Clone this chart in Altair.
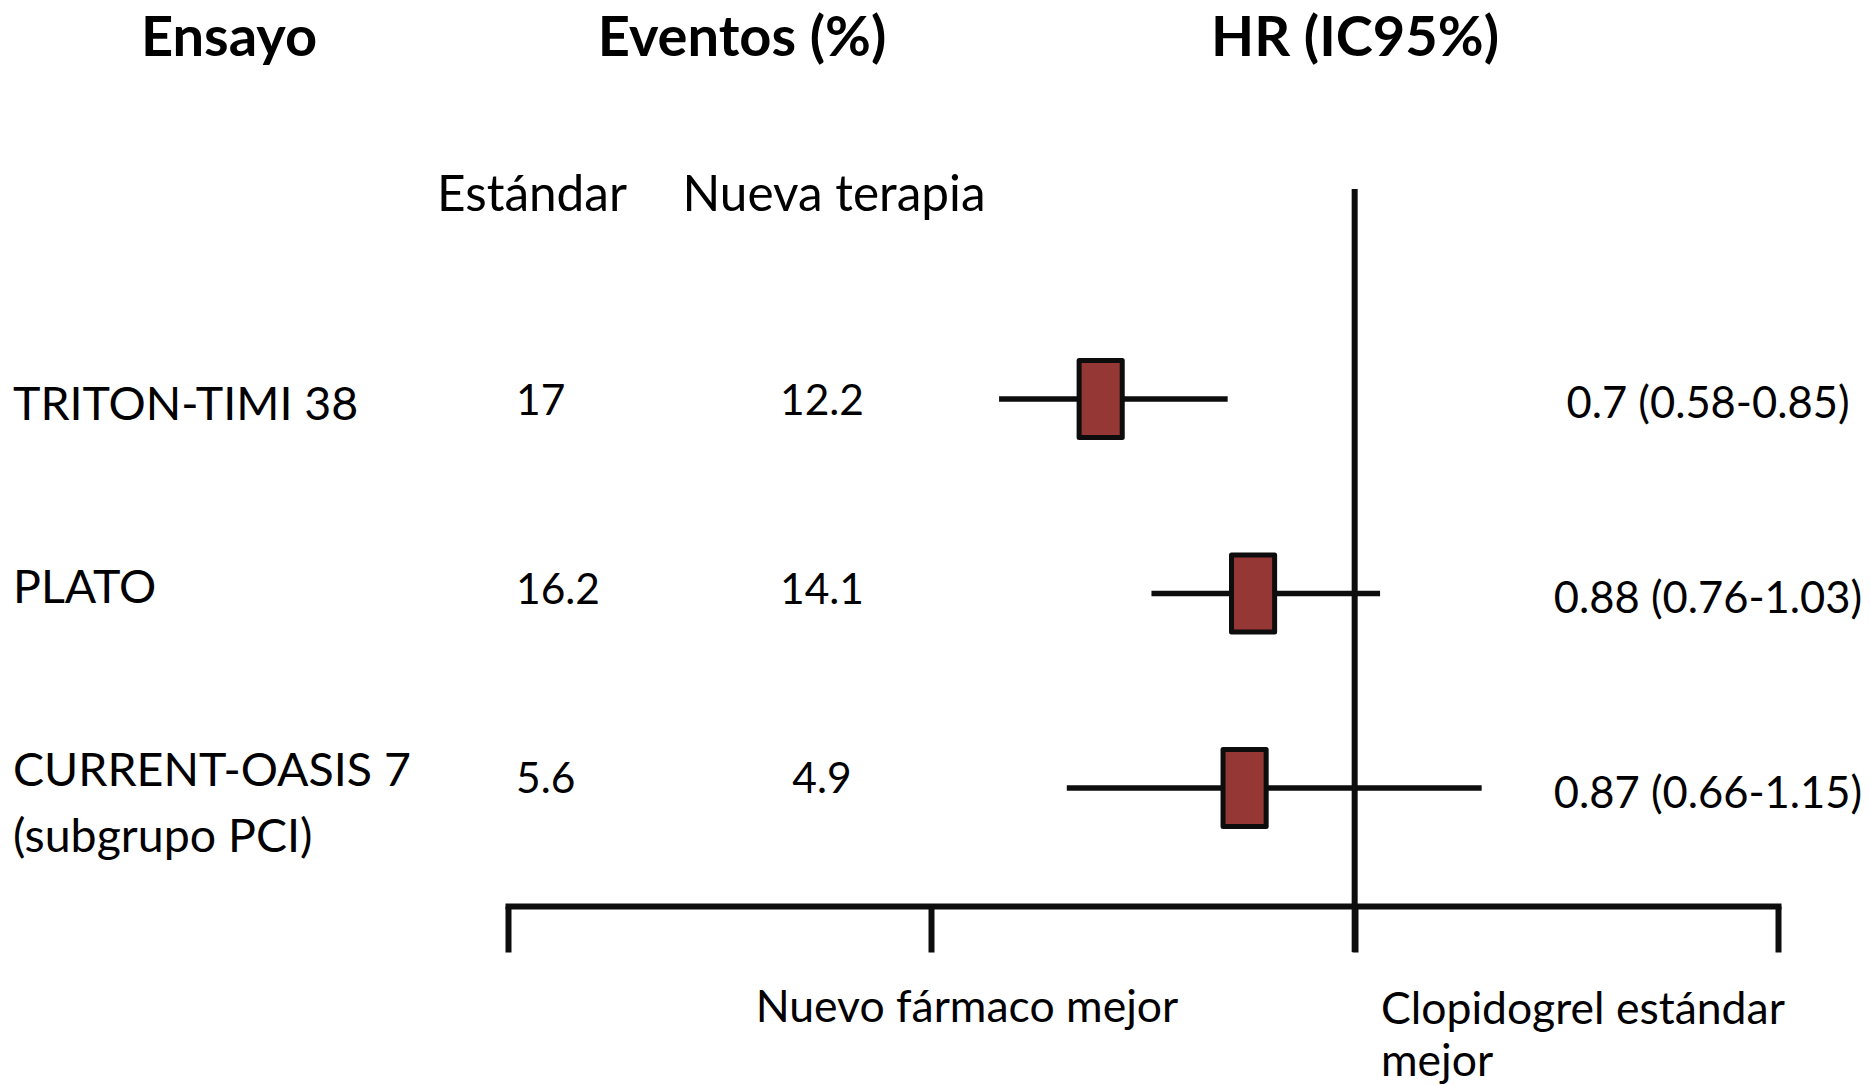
import altair as alt
import pandas as pd

# Trial rows
trials = ["TRITON-TIMI 38", "PLATO", "CURRENT-OASIS 7"]
trial_notes = ["", "", "(subgrupo PCI)"]
events_std = ["17", "16.2", "5.6"]
events_new = ["12.2", "14.1", "4.9"]

# Hazard ratios with 95% CI
hr = [0.7, 0.88, 0.87]
hr_lo = [0.58, 0.76, 0.66]
hr_hi = [0.85, 1.03, 1.15]

# Axis ticks and the line of no effect
axis_ticks = [0, 0.5, 1.0, 1.5]
no_effect = [1.0]

headers = ["Ensayo", "Eventos (%)", "HR (IC95%)"]
subheaders = ["Estándar", "Nueva terapia"]
favours_new = "Nuevo fármaco mejor"
favours_std = ["Clopidogrel estándar", "mejor"]

FONT = "Lato"
INK = "#0d0d0d"
BOX_FILL = "#953735"

df = pd.DataFrame({
    "trial": trials,
    "note": trial_notes,
    "std": events_std,
    "new": events_new,
    "hr": hr,
    "lo": hr_lo,
    "hi": hr_hi,
})
df["hr_text"] = [f"{h} ({l}-{u})" for h, l, u in zip(hr, hr_lo, hr_hi)]

x_scale = alt.Scale(domain=[axis_ticks[0], axis_ticks[-1]], range=[508, 1778], nice=False, zero=False)
x_axis = alt.Axis(values=axis_ticks, labels=False, title=None, grid=False,
                  domainColor=INK, domainWidth=6, tickColor=INK, tickWidth=6,
                  tickSize=46, domainCap="square")


def row_y(top, bottom):
    """Row position channel; each column of the table sits on its own row band."""
    return alt.Y("trial:N", sort=trials, axis=None,
                 scale=alt.Scale(type="point", domain=trials, range=[top, bottom], padding=0))


base = alt.Chart(df)

ci = base.mark_rule(strokeWidth=5.5, color=INK).encode(
    x=alt.X("lo:Q", scale=x_scale, axis=x_axis),
    x2="hi:Q",
    y=row_y(399, 788),
)

box_path = "M-0.56,-1H0.56V1H-0.56Z"
boxes = base.mark_point(shape=box_path, size=77 * 77, filled=True, fill=BOX_FILL,
                        stroke=INK, strokeWidth=5, opacity=1, fillOpacity=1,
                        strokeOpacity=1, strokeJoin="round").encode(
    x=alt.X("hr:Q", scale=x_scale, axis=x_axis),
    y=row_y(399, 788),
)

null_line = alt.Chart(pd.DataFrame({"v": no_effect})).mark_rule(strokeWidth=6, color=INK).encode(
    x=alt.X("v:Q", scale=x_scale, axis=x_axis),
    y=alt.value(189),
    y2=alt.value(952),
)

row_labels = base.mark_text(font=FONT, fontSize=46.5, align="left", baseline="middle",
                            dy=3, color="black").encode(
    text="trial:N", x=alt.value(13), y=row_y(403, 769))
row_notes = base.mark_text(font=FONT, fontSize=46.5, align="left", baseline="middle",
                           dy=69, color="black").encode(
    text="note:N", x=alt.value(13), y=row_y(403, 769))
col_std = base.mark_text(font=FONT, fontSize=42.5, align="left", baseline="middle",
                         dy=3, color="black").encode(
    text="std:N", x=alt.value(516), y=row_y(398.5, 776.5))
col_new = base.mark_text(font=FONT, fontSize=42.5, align="center", baseline="middle",
                         dy=3, color="black").encode(
    text="new:N", x=alt.value(822), y=row_y(398.5, 776.5))
col_hr = base.mark_text(font=FONT, fontSize=43.5, align="center", baseline="middle",
                        dy=3, color="black").encode(
    text="hr_text:N", x=alt.value(1708), y=row_y(401.5, 791.5))


def label(text, x, y, size, align="center", weight="normal", line_height=None):
    kw = dict(font=FONT, fontSize=size, align=align, baseline="alphabetic",
              fontWeight=weight, color="black")
    if line_height is not None:
        kw["lineHeight"] = line_height
    return alt.Chart(pd.DataFrame({"t": [text]})).mark_text(**kw).encode(
        text="t", x=alt.value(x), y=alt.value(y))


texts = [
    label(headers[0], 229, 56, 56, weight="bold"),
    label(headers[1], 742, 56, 56, weight="bold"),
    label(headers[2], 1355, 56, 56, weight="bold"),
    label(subheaders[0], 532, 211, 49.5),
    label(subheaders[1], 834, 211, 49.5),
    label(favours_new, 967, 1022, 44.5),
    label(favours_std, 1381, 1024, 44.5, align="left", line_height=52),
]

chart = alt.layer(ci, null_line, boxes, row_labels, row_notes, col_std, col_new, col_hr, *texts).resolve_scale(
    y="independent"
).properties(
    width=1870,
    height=906,
    padding={"left": 0, "top": 0, "right": 0, "bottom": 179},
    autosize=alt.AutoSizeParams(type="none"),
    background="white",
).configure_view(stroke=None)

chart.save("out.html", embed_options={"renderer": "svg", "actions": False})
